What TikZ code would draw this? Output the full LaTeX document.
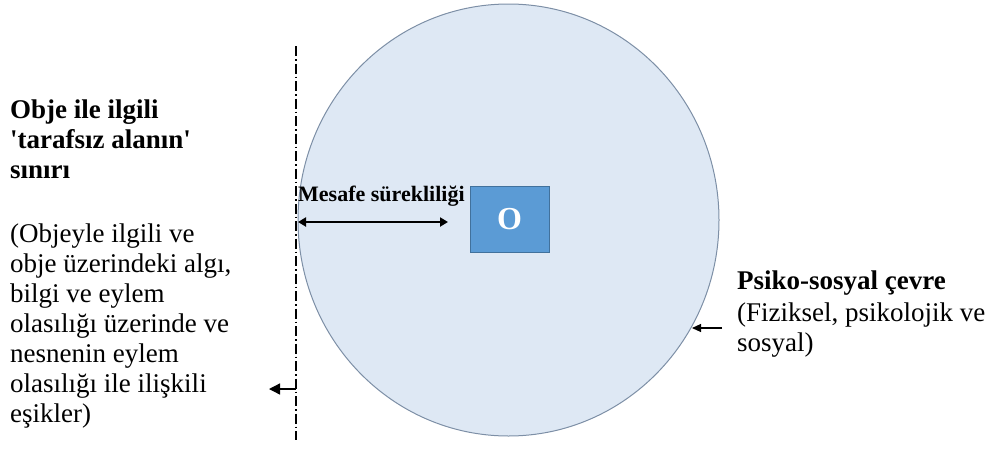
\documentclass[tikz,border=0pt]{standalone}
\usepackage{fontspec}
\setmainfont{Liberation Serif}
\usetikzlibrary{arrows.meta,shapes.geometric}
\definecolor{envfill}{HTML}{DEE8F4}
\definecolor{envedge}{HTML}{7D8FA6}
\definecolor{objfill}{HTML}{5B9BD5}
\definecolor{objedge}{HTML}{41719C}
\tikzset{
  envcircle/.style={ellipse,draw=envedge,fill=envfill,line width=1pt,inner sep=0pt},
  objbox/.style={rectangle,draw=objedge,fill=objfill,line width=0.8pt,inner sep=0pt,
    text=white,font=\fontsize{32}{32}\selectfont\bfseries},
  bndline/.style={line width=1.1pt,dash pattern=on 10pt off 3pt on 1.5pt off 3pt},
  txt/.style={anchor=north west,inner sep=0pt,align=left,font=\fontsize{27}{30}\selectfont},
  head/.style={txt,font=\fontsize{27}{30}\selectfont\bfseries}
}
\begin{document}
\begin{tikzpicture}[x=1pt,y=-1pt]
    \useasboundingbox (0,0) rectangle (990,450);
      \node[envcircle,minimum width=421pt,minimum height=432pt] (env) at (508.5,220) {};
      \node[objbox,minimum width=79pt,minimum height=66pt] (obj) at (509.5,219) {O};
      \coordinate (bndtop) at (296,46);
      \coordinate (bndbot) at (296,440);
      \draw[bndline] (bndtop) -- (bndbot);
      \coordinate (dstart) at (298,222);
      \coordinate (dend) at (448,222);
      \draw[line width=2.4pt,{Triangle[length=8pt,width=9pt]}-{Triangle[length=8pt,width=9pt]}] (dstart) -- (dend);
      \node[anchor=base west,inner sep=0pt,font=\fontsize{22}{22}\selectfont\bfseries] (dist) at (298,201.5) {Mesafe sürekliliği};
      \node[head] (bndhead) at (10,99.5) {Obje ile ilgili\\\textquotesingle tarafsız alanın\textquotesingle\\sınırı};
      \node[txt] (bnddesc) at (10,223.3) {(Objeyle ilgili ve\\obje üzerindeki algı,\\bilgi ve eylem\\olasılığı üzerinde ve\\nesnenin eylem\\olasılığı ile ilişkili\\eşikler)};
      \coordinate (bndarr) at (296,389);
      \coordinate (bndtip) at (269,389);
      \draw[line width=1.3pt,-{Triangle[length=11pt,width=11pt]}] (bndarr) -- (bndtip);
      \node[head] (envhead) at (737,270.6) {Psiko-sosyal çevre};
      \node[txt] (envdesc) at (737,302.3) {(Fiziksel, psikolojik ve\\sosyal)};
      \coordinate (envarr) at (722,328);
      \coordinate (envtip) at (692,328);
      \draw[line width=1.1pt,-{Triangle[length=9pt,width=8pt]}] (envarr) -- (envtip);
    \end{tikzpicture}
\end{document}
